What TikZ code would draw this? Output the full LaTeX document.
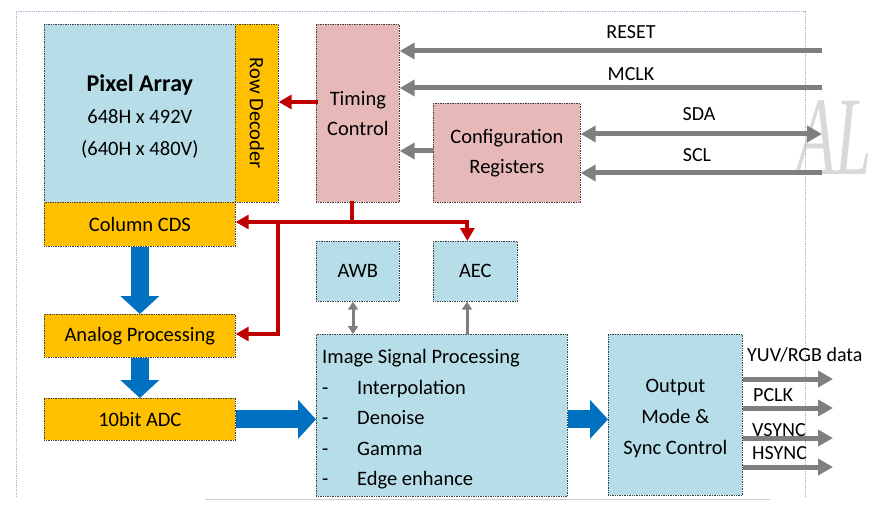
\documentclass[tikz,border=0pt]{standalone}
\usepackage{fontspec}
\setmainfont{Carlito}
\newfontfamily\wmfont{Liberation Serif}
\usetikzlibrary{arrows.meta}

\definecolor{skyfill}{HTML}{B7DEE8}
\definecolor{ambfill}{HTML}{FFC000}
\definecolor{rosefill}{HTML}{E6B9B8}
\definecolor{ctrlred}{HTML}{C00000}
\definecolor{datablue}{HTML}{0070C0}
\definecolor{siggray}{HTML}{7F7F7F}
\definecolor{framelav}{HTML}{B9AED6}

\tikzset{
  box/.style={draw=black!75, densely dotted, line width=0.7pt, anchor=north west,
    inner sep=0pt, align=center, font=\fontsize{20.5}{30}\selectfont},
  bluebox/.style={box, fill=skyfill},
  ambbox/.style={box, fill=ambfill},
  rosebox/.style={box, fill=rosefill},
  sig/.style={font=\fontsize{20}{22}\selectfont, inner sep=1pt},
  grayarr/.style={draw=siggray, line width=5pt, -{Triangle[length=15pt,width=16pt]}},
  graydbl/.style={draw=siggray, line width=5pt, {Triangle[length=15pt,width=16pt]}-{Triangle[length=15pt,width=16pt]}},
  thinarr/.style={draw=siggray, line width=3pt, -{Triangle[length=8pt,width=10pt]}},
  thindbl/.style={draw=siggray, line width=3pt, {Triangle[length=8pt,width=10pt]}-{Triangle[length=8pt,width=10pt]}},
  redline/.style={draw=ctrlred, line width=4pt, line cap=rect},
  redarr/.style={redline, -{Triangle[length=13pt,width=14pt]}},
  fatarr/.style={draw=datablue, line width=18pt, -{Triangle[length=18pt,width=38pt]}}
}

\begin{document}
\begin{tikzpicture}[x=1pt,y=-1pt]
  \useasboundingbox (0,0) rectangle (882,521);

  % frame and watermark
  \node[text=black!15, font=\wmfont\itshape\fontsize{112}{112}\selectfont, xscale=0.58] (wmark) at (834,138) {AL};
  \draw[framelav, densely dotted, line width=0.8pt] (16,497) -- (16,11) -- (805,11) -- (805,497);
  \draw[black!20, line width=1pt] (205,499) -- (770,499);

  % sensor side
  \node[bluebox, minimum width=191pt, minimum height=178pt] (pix) at (44,24) {};
  \node[font=\fontsize{20.5}{32}\selectfont, align=center] (pixtxt) at ([yshift=-3pt]pix.center)
    {{\fontsize{24}{32}\selectfont\bfseries Pixel Array}\\648H x 492V\\(640H x 480V)};
  \node[ambbox, minimum width=43pt, minimum height=178pt] (rowdec) at (235,24) {};
  \node[rotate=-90, font=\fontsize{20.5}{22}\selectfont] (rowtxt) at (rowdec.center) {Row Decoder};
  \node[ambbox, minimum width=191pt, minimum height=44pt] (colcds) at (44,202) {Column CDS};
  \node[ambbox, minimum width=191pt, minimum height=43pt] (anaproc) at (44,314) {Analog Processing};
  \node[ambbox, minimum width=191pt, minimum height=42pt] (adc) at (44,398) {10bit ADC};

  % control
  \node[rosebox, minimum width=83pt, minimum height=178pt] (timing) at (316,24) {Timing\\Control};
  \node[rosebox, minimum width=147pt, minimum height=99pt] (config) at (433,103) {Configuration\\Registers};

  % processing
  \node[bluebox, minimum width=83pt, minimum height=60pt] (awb) at (316,241) {AWB};
  \node[bluebox, minimum width=84pt, minimum height=60pt] (aec) at (433,241) {AEC};
  \node[bluebox, minimum width=251pt, minimum height=162pt] (isp) at (316,334) {};
  \node[anchor=north west, align=left, inner sep=0pt, font=\fontsize{20.5}{30.5}\selectfont] (isptxt) at (322,349.5)
    {Image Signal Processing\\
     \makebox[35pt][l]{-}Interpolation\\
     \makebox[35pt][l]{-}Denoise\\
     \makebox[35pt][l]{-}Gamma\\
     \makebox[35pt][l]{-}Edge enhance};
  \node[bluebox, minimum width=134pt, minimum height=161pt] (out) at (608,334) {};
  \node[font=\fontsize{20.5}{31}\selectfont, align=center] (outtxt) at ([yshift=-4pt]out.center) {Output\\Mode \&\\Sync Control};

  % input signals
  \coordinate (resetin) at (822,51);
  \coordinate (mclkin) at (822,88);
  \coordinate (sdain) at (822,134);
  \coordinate (sclin) at (822,173);
  \draw[grayarr] (resetin) -- (resetin -| timing.east);
  \draw[grayarr] (mclkin) -- (mclkin -| timing.east);
  \draw[graydbl] (sdain -| config.east) -- (sdain);
  \draw[grayarr] (sclin) -- (sclin -| config.east);
  \draw[grayarr] (config.west |- 0,151) -- (timing.east |- 0,151);
  \node[sig] (resetlbl) at (631,32) {RESET};
  \node[sig] (mclklbl) at (631,74) {MCLK};
  \node[sig] (sdalbl) at (699,114) {SDA};
  \node[sig] (scllbl) at (697,155) {SCL};

  % control lines
  \coordinate (rbus) at (352,222);
  \coordinate (anabus) at (278,222);
  \draw[redarr] (timing.west |- 0,102) -- (rowdec.east |- 0,102);
  \draw[redline] (timing.south -| rbus) -- (rbus);
  \draw[redarr] (rbus) -| ([xshift=-8pt]aec.north);
  \draw[redarr] (rbus) -- (rbus -| colcds.east);
  \draw[redarr] (anabus) |- (anaproc.east |- 0,334);

  % data path
  \draw[fatarr] (colcds.south) -- (anaproc.north);
  \draw[fatarr] (anaproc.south) -- (adc.north);
  \draw[fatarr] (adc.east) -- (adc.east -| isp.west);
  \draw[fatarr] (isp.east |- adc.east) -- (adc.east -| out.west);
  \draw[thindbl] (awb.south -| 353,0) -- (isp.north -| 353,0);
  \draw[thinarr] (isp.north -| 467,0) -- (aec.south -| 467,0);

  % output signals
  \draw[grayarr] (out.east |- 0,379) -- (833,379);
  \draw[grayarr] (out.east |- 0,408) -- (833,408);
  \draw[grayarr] (out.east |- 0,438) -- (833,438);
  \draw[grayarr] (out.east |- 0,467) -- (833,467);
  \node[sig, anchor=west] (yuvlbl) at (746,355) {YUV/RGB data};
  \node[sig, anchor=west] (pclklbl) at (752,395) {PCLK};
  \node[sig, anchor=west] (vsynclbl) at (751,430) {VSYNC};
  \node[sig, anchor=west] (hsynclbl) at (751,453) {HSYNC};
\end{tikzpicture}
\end{document}
